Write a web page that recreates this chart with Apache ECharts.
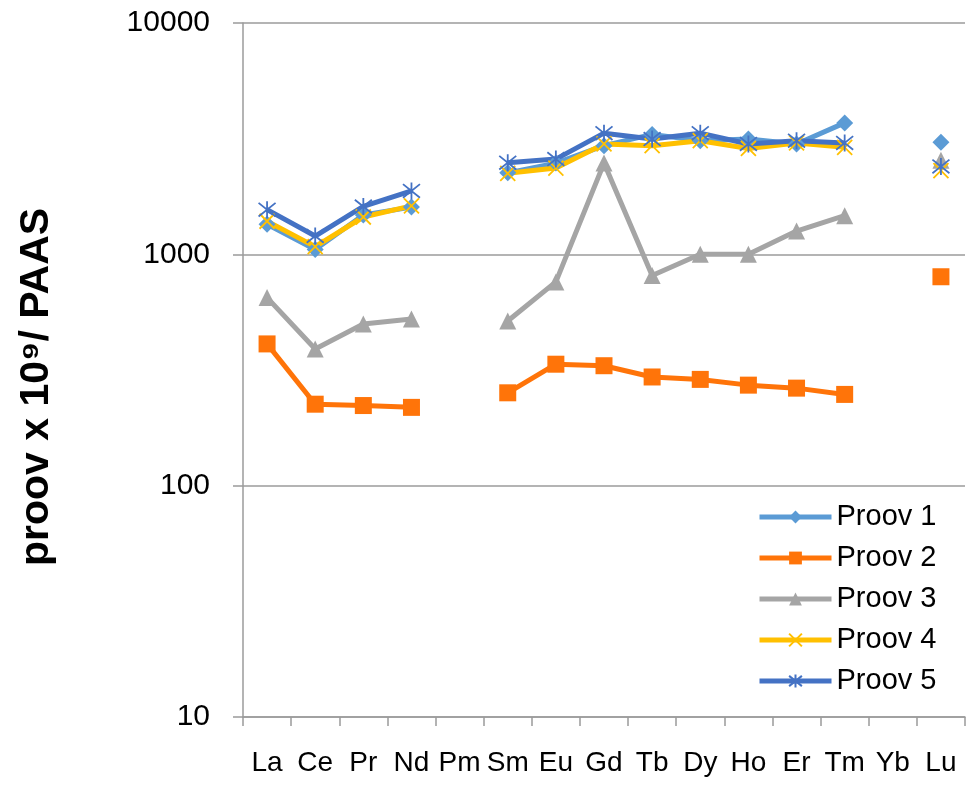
<!DOCTYPE html>
<html>
<head>
<meta charset="utf-8">
<script src="https://cdn.jsdelivr.net/npm/echarts@6/dist/echarts.min.js"></script>
<style>html,body{margin:0;padding:0;background:#fff}#c{width:970px;height:791px}</style>
</head>
<body>
<div id="c"></div>
<script>
var categories = ['La','Ce','Pr','Nd','Pm','Sm','Eu','Gd','Tb','Dy','Ho','Er','Tm','Yb','Lu'];
var proov1 = [1350, 1050, 1480, 1600, null, 2250, 2480, 2950, 3300, 3100, 3150, 3000, 3700, null, 3050];
var proov2 = [410, 225, 222, 218, null, 252, 335, 330, 295, 288, 272, 264, 248, null, 800];
var proov3 = [650, 390, 500, 525, null, 515, 760, 2480, 810, 1000, 1000, 1260, 1470, null, 2550];
var proov4 = [1390, 1080, 1450, 1620, null, 2240, 2360, 3000, 2950, 3100, 2870, 3030, 2900, null, 2300];
var proov5 = [1560, 1200, 1610, 1880, null, 2490, 2580, 3340, 3150, 3340, 3000, 3100, 3030, null, 2400];
var seriesNames = ['Proov 1','Proov 2','Proov 3','Proov 4','Proov 5'];
var yTicks = [10, 100, 1000, 10000];

var colors = ['#5B9BD5', '#FF7409', '#A5A5A5', '#FFC000', '#4472C4'];
var FONT = '"Liberation Sans", Arial, sans-serif';

function mk(name, data, color, symbol, size, stroke) {
  var s = {
    name: name, type: 'line', data: data, connectNulls: false,
    symbol: symbol, symbolSize: size, showSymbol: true,
    lineStyle: { color: color, width: 5 },
    itemStyle: { color: color },
    emphasis: { disabled: true }
  };
  if (stroke) {
    s.itemStyle = { color: color, borderColor: color, borderWidth: 1.8 };
  }
  return s;
}

var chart = echarts.init(document.getElementById('c'), null, { renderer: 'canvas' });
chart.setOption({
  animation: false,
  backgroundColor: '#fff',
  grid: { left: 243, right: 5, top: 23, bottom: 74, containLabel: false },
  legend: {
    orient: 'vertical', left: 752, top: 497,
    itemWidth: 72, itemHeight: 16, itemGap: 11,
    lineStyle: { width: 5 },
    textStyle: { fontFamily: FONT, fontSize: 29, color: '#000', lineHeight: 30 },
    data: seriesNames
  },
  xAxis: {
    type: 'category', data: categories, boundaryGap: true,
    axisLine: { lineStyle: { color: '#9b9b9b', width: 1.5 } },
    axisTick: { show: true, length: 9, lineStyle: { color: '#9b9b9b', width: 1.5 } },
    axisLabel: { interval: 0, margin: 32, fontFamily: FONT, fontSize: 28, color: '#000' },
    splitLine: { show: false }
  },
  yAxis: {
    type: 'log', logBase: 10, min: yTicks[0], max: yTicks[yTicks.length - 1],
    name: 'proov x 10\u2079/ PAAS', nameLocation: 'middle', nameRotate: 90, nameGap: 186,
    nameTextStyle: { fontFamily: FONT, fontSize: 41, fontWeight: 'bold', color: '#000',
      padding: [0, 34, 0, 0] },
    axisLine: { show: true, lineStyle: { color: '#9b9b9b', width: 1.5 } },
    axisTick: { show: true, length: 10, lineStyle: { color: '#9b9b9b', width: 1.5 } },
    axisLabel: { margin: 33, fontFamily: FONT, fontSize: 30, color: '#000',
      formatter: function (v) { return String(Math.round(v)); } },
    splitLine: { show: true, lineStyle: { color: '#9b9b9b', width: 1.5 } }
  },
  series: [
    mk(seriesNames[0], proov1, colors[0], 'diamond', 17),
    mk(seriesNames[1], proov2, colors[1], 'rect', 17),
    mk(seriesNames[2], proov3, colors[2], 'triangle', 17),
    mk(seriesNames[3], proov4, colors[3], 'path://M0,0L10,10M10,0L0,10', 15, true),
    mk(seriesNames[4], proov5, colors[4], 'path://M5,0L5,10M1,1L9,9M9,1L1,9', 17, true)
  ]
});
</script>
</body>
</html>
